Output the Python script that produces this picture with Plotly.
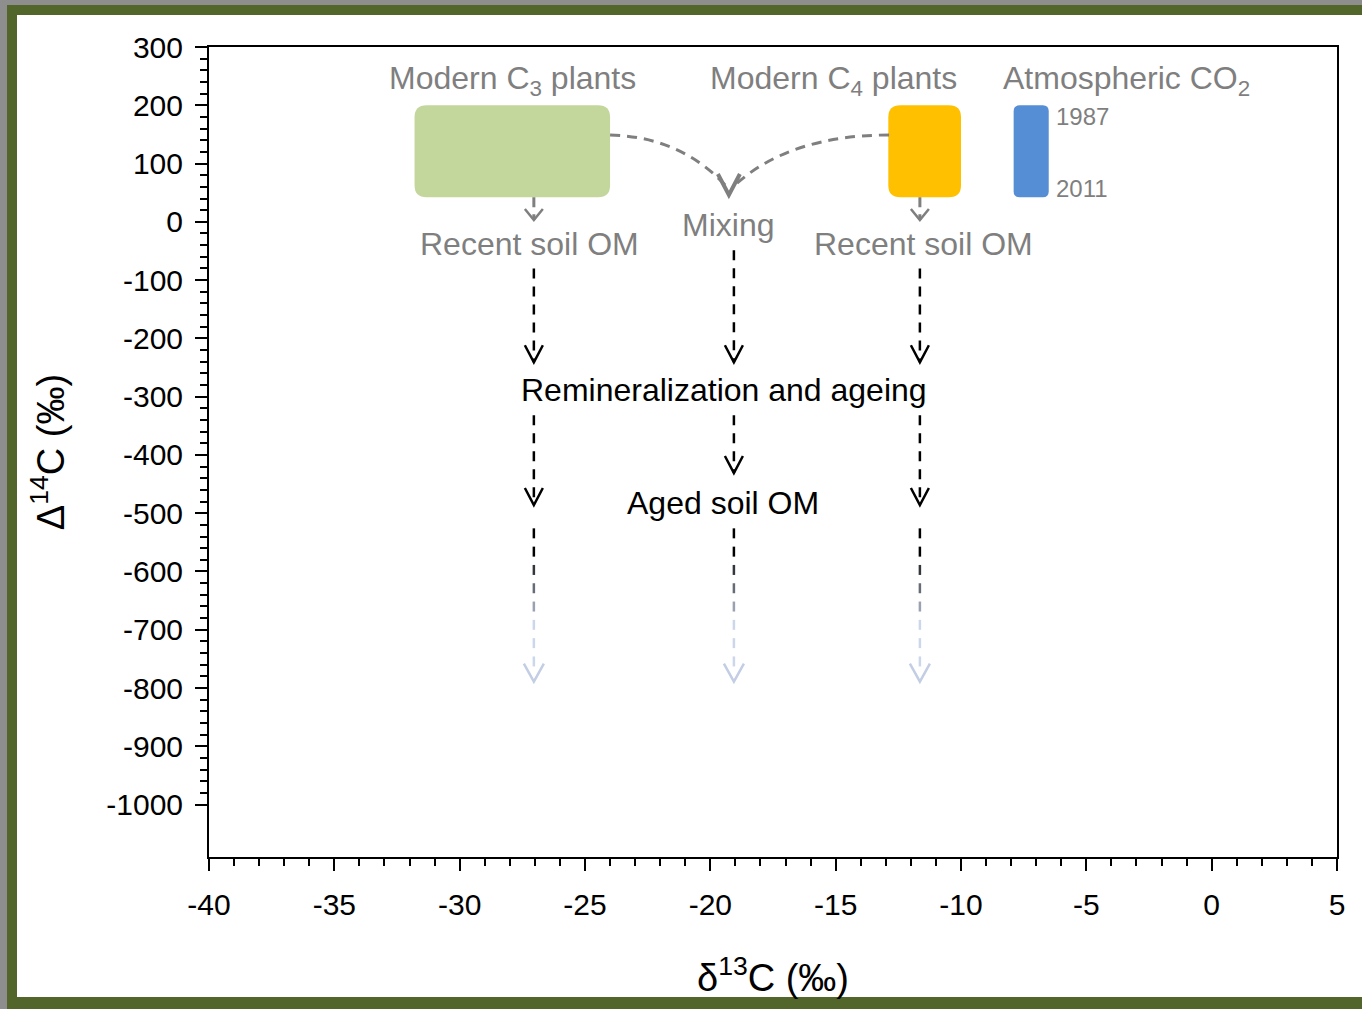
import plotly.graph_objects as go

# ---- figure geometry -------------------------------------------------------
W, H = 1362, 1009
MARGIN = dict(l=209, r=25, t=47, b=152)
X_RANGE = [-40, 5]
Y_RANGE = [-1090, 300]

X_TICKS = list(range(-40, 6, 5))
Y_TICKS = list(range(-1000, 301, 100))
X_TICKTEXT = [str(v) for v in X_TICKS]
Y_TICKTEXT = [str(v) for v in Y_TICKS]
X_MINOR = [v for v in range(-40, 6) if v % 5]
Y_MINOR = [v for v in range(-1000, 301, 20) if v % 100]

# ---- source end-members (delta13C span, Delta14C span) --------------------
BOX_X0 = [-31.8, -12.9, -7.9]
BOX_X1 = [-24.0, -10.0, -6.5]
BOX_Y0 = [42, 42, 42]
BOX_Y1 = [200, 200, 200]
BOX_COLORS = ["#C3D69B", "#FFC000", "#558ED5"]
BOX_RADIUS_PX = [12, 12, 6]

SOURCE_LABELS = ["Modern C<sub>3</sub> plants", "Modern C<sub>4</sub> plants",
                 "Atmospheric CO<sub>2</sub>"]
SOURCE_LABEL_X = [-27.9, -15.1, -3.4]
SOURCE_LABEL_Y = [243, 243, 243]

YEAR_LABELS = ["1987", "2011"]
YEAR_X = [-6.3, -6.3]
YEAR_Y = [180, 58]

# ---- pathways --------------------------------------------------------------
COL_X = [-27.04, -19.06, -11.64]
STEP1_TOP = [-80, -49, -80]
STEP1_TIP = [-241, -241, -241]
STEP2_TOP = [-332, -332, -332]
STEP2_TIP = [-486, -431, -486]
STEP3_TOP = [-526, -526, -526]
STEP3_TIP = [-789, -789, -789]

# short arrows from the plant boxes to recent soil OM
SHORT_X = [-27.04, -11.64]
SHORT_TOP = [42, 42]
SHORT_TIP = [3, 3]

# mixing curves (start, control, end)
MIX_LEFT = [(-24.0, 149), (-21.2, 146), (-19.41, 63)]
MIX_RIGHT = [(-12.87, 149), (-16.82, 149), (-19.02, 63)]
MIX_TIP = (-19.26, 46)

STAGE_LABELS = ["Recent soil OM", "Mixing", "Recent soil OM",
                "Remineralization and ageing", "Aged soil OM"]
STAGE_X = [-27.2, -19.3, -11.48, -19.45, -19.5]
STAGE_Y = [-38, -5, -38, -289, -483]
STAGE_COLORS = ["#7F7F7F", "#7F7F7F", "#7F7F7F", "#000000", "#000000"]

GREY = "#7F7F7F"
FONT = "Liberation Sans, Arial, sans-serif"
OLIVE = "#52652B"

plot_w = W - MARGIN["l"] - MARGIN["r"]
plot_h = H - MARGIN["t"] - MARGIN["b"]
SX = plot_w / (X_RANGE[1] - X_RANGE[0])   # px per delta13C unit
SY = plot_h / (Y_RANGE[1] - Y_RANGE[0])   # px per Delta14C unit


def rounded_rect(x0, x1, y0, y1, r_px):
    rx, ry = r_px / SX, r_px / SY
    return (f"M {x0 + rx},{y1} L {x1 - rx},{y1} Q {x1},{y1} {x1},{y1 - ry} "
            f"L {x1},{y0 + ry} Q {x1},{y0} {x1 - rx},{y0} "
            f"L {x0 + rx},{y0} Q {x0},{y0} {x0},{y0 + ry} "
            f"L {x0},{y1 - ry} Q {x0},{y1} {x0 + rx},{y1} Z")


def vhead(x, y, half_w, height, color, width):
    return dict(type="path", xref="x", yref="y",
                xsizemode="pixel", ysizemode="pixel", xanchor=x, yanchor=y,
                path=f"M {-half_w},{height} L 0,0 L {half_w},{height}",
                line=dict(color=color, width=width))


def dashed(x, ytop, ytip, color, width, dash):
    return dict(type="line", xref="x", yref="y", x0=x, x1=x, y0=ytop, y1=ytip,
                line=dict(color=color, width=width, dash=dash))


def mix_color(c0, c1, t):
    a = [int(c0[i:i + 2], 16) for i in (1, 3, 5)]
    b = [int(c1[i:i + 2], 16) for i in (1, 3, 5)]
    return "#" + "".join(f"{round(p + (q - p) * t):02X}" for p, q in zip(a, b))


shapes = []

# page frame
px2px = lambda px: (px - MARGIN["l"]) / plot_w
py2py = lambda py: (H - MARGIN["b"] - py) / plot_h
shapes.append(dict(type="rect", xref="paper", yref="paper", layer="below",
                   x0=px2px(17), x1=px2px(W + 5), y0=py2py(997), y1=py2py(15),
                   fillcolor="white", line=dict(width=0)))
shapes.append(dict(type="rect", xref="paper", yref="paper", layer="below",
                   x0=px2px(-5), x1=px2px(7), y0=py2py(H + 5), y1=py2py(-5),
                   fillcolor="#8E8E8E", line=dict(width=0)))
shapes.append(dict(type="rect", xref="paper", yref="paper", layer="below",
                   x0=px2px(-5), x1=px2px(W + 5), y0=py2py(5), y1=py2py(-5),
                   fillcolor="#8E8E8E", line=dict(width=0)))

# source boxes
for x0, x1, y0, y1, c, r in zip(BOX_X0, BOX_X1, BOX_Y0, BOX_Y1, BOX_COLORS, BOX_RADIUS_PX):
    shapes.append(dict(type="path", xref="x", yref="y",
                       path=rounded_rect(x0, x1, y0, y1, r),
                       fillcolor=c, line=dict(width=0)))

# mixing curves
for (p0, c, p2) in (MIX_LEFT, MIX_RIGHT):
    shapes.append(dict(type="path", xref="x", yref="y",
                       path=f"M {p0[0]},{p0[1]} Q {c[0]},{c[1]} {p2[0]},{p2[1]}",
                       line=dict(color=GREY, width=3, dash="10px,7px")))
shapes.append(vhead(MIX_TIP[0], MIX_TIP[1], 11, 21, GREY, 4))

# box -> recent soil OM
for x, yt, yb in zip(SHORT_X, SHORT_TOP, SHORT_TIP):
    shapes.append(dashed(x, yt, yb, GREY, 3, "10px,7px"))
    shapes.append(vhead(x, yb, 9, 11, GREY, 2.5))

# remineralization steps
for x, a, b, c, d in zip(COL_X, STEP1_TOP, STEP1_TIP, STEP2_TOP, STEP2_TIP):
    shapes.append(dashed(x, a, b, "black", 2.5, "10px,8px"))
    shapes.append(vhead(x, b, 9, 17, "black", 2.5))
    shapes.append(dashed(x, c, d, "black", 2.5, "10px,8px"))
    shapes.append(vhead(x, d, 9, 17, "black", 2.5))

# fading final step
FADE_END = "#CDD7EB"
DASH_PX, PERIOD_PX = 10, 18.3
for x, top, tip in zip(COL_X, STEP3_TOP, STEP3_TIP):
    length_px = (top - tip) * SY
    k = 0
    while k * PERIOD_PX + DASH_PX <= length_px - 12:
        col = mix_color("#000000", FADE_END, min(1.0, max(0.0, (k - 1) / 4)))
        shapes.append(dict(type="line", xref="x", yref="y",
                           xsizemode="pixel", ysizemode="pixel",
                           xanchor=x, yanchor=top, x0=0, x1=0,
                           y0=-k * PERIOD_PX, y1=-(k * PERIOD_PX + DASH_PX),
                           line=dict(color=col, width=2.5)))
        k += 1
    shapes.append(vhead(x, tip, 10, 18, "#C3CEE4", 2.5))

annotations = []
for t, x, y in zip(SOURCE_LABELS, SOURCE_LABEL_X, SOURCE_LABEL_Y):
    annotations.append(dict(text=t, x=x, y=y, xref="x", yref="y", showarrow=False,
                            xanchor="center", yanchor="middle",
                            font=dict(family=FONT, size=32, color=GREY)))
for t, x, y in zip(YEAR_LABELS, YEAR_X, YEAR_Y):
    annotations.append(dict(text=t, x=x, y=y, xref="x", yref="y", showarrow=False,
                            xanchor="left", yanchor="middle",
                            font=dict(family=FONT, size=24, color=GREY)))
for t, x, y, c in zip(STAGE_LABELS, STAGE_X, STAGE_Y, STAGE_COLORS):
    annotations.append(dict(text=t, x=x, y=y, xref="x", yref="y", showarrow=False,
                            xanchor="center", yanchor="middle",
                            font=dict(family=FONT, size=32, color=c)))

axis_common = dict(showgrid=False, zeroline=False, showline=True, linewidth=2,
                   linecolor="black", mirror=True, ticks="outside", ticklen=12,
                   tickwidth=2, tickcolor="black", tickmode="array",
                   tickfont=dict(family=FONT, size=30, color="black"))

fig = go.Figure()
fig.update_layout(
    width=W, height=H, margin=MARGIN,
    paper_bgcolor=OLIVE, plot_bgcolor="white",
    showlegend=False, shapes=shapes, annotations=annotations,
    xaxis=dict(range=X_RANGE, tickvals=X_TICKS, ticktext=X_TICKTEXT,
               minor=dict(tickmode="array", tickvals=X_MINOR, ticks="outside",
                          ticklen=7, tickwidth=2, tickcolor="black"),
               title=dict(text="δ<sup>13</sup>C (‰)", standoff=44,
                          font=dict(family=FONT, size=38, color="black")),
               ticklabelstandoff=8, **axis_common),
    yaxis=dict(range=Y_RANGE, tickvals=Y_TICKS, ticktext=Y_TICKTEXT,
               minor=dict(tickmode="array", tickvals=Y_MINOR, ticks="outside",
                          ticklen=7, tickwidth=2, tickcolor="black"),
               title=dict(text="Δ<sup>14</sup>C (‰)", standoff=30,
                          font=dict(family=FONT, size=38, color="black")),
               ticklabelstandoff=6, **axis_common),
)

fig.write_html("out.html")
